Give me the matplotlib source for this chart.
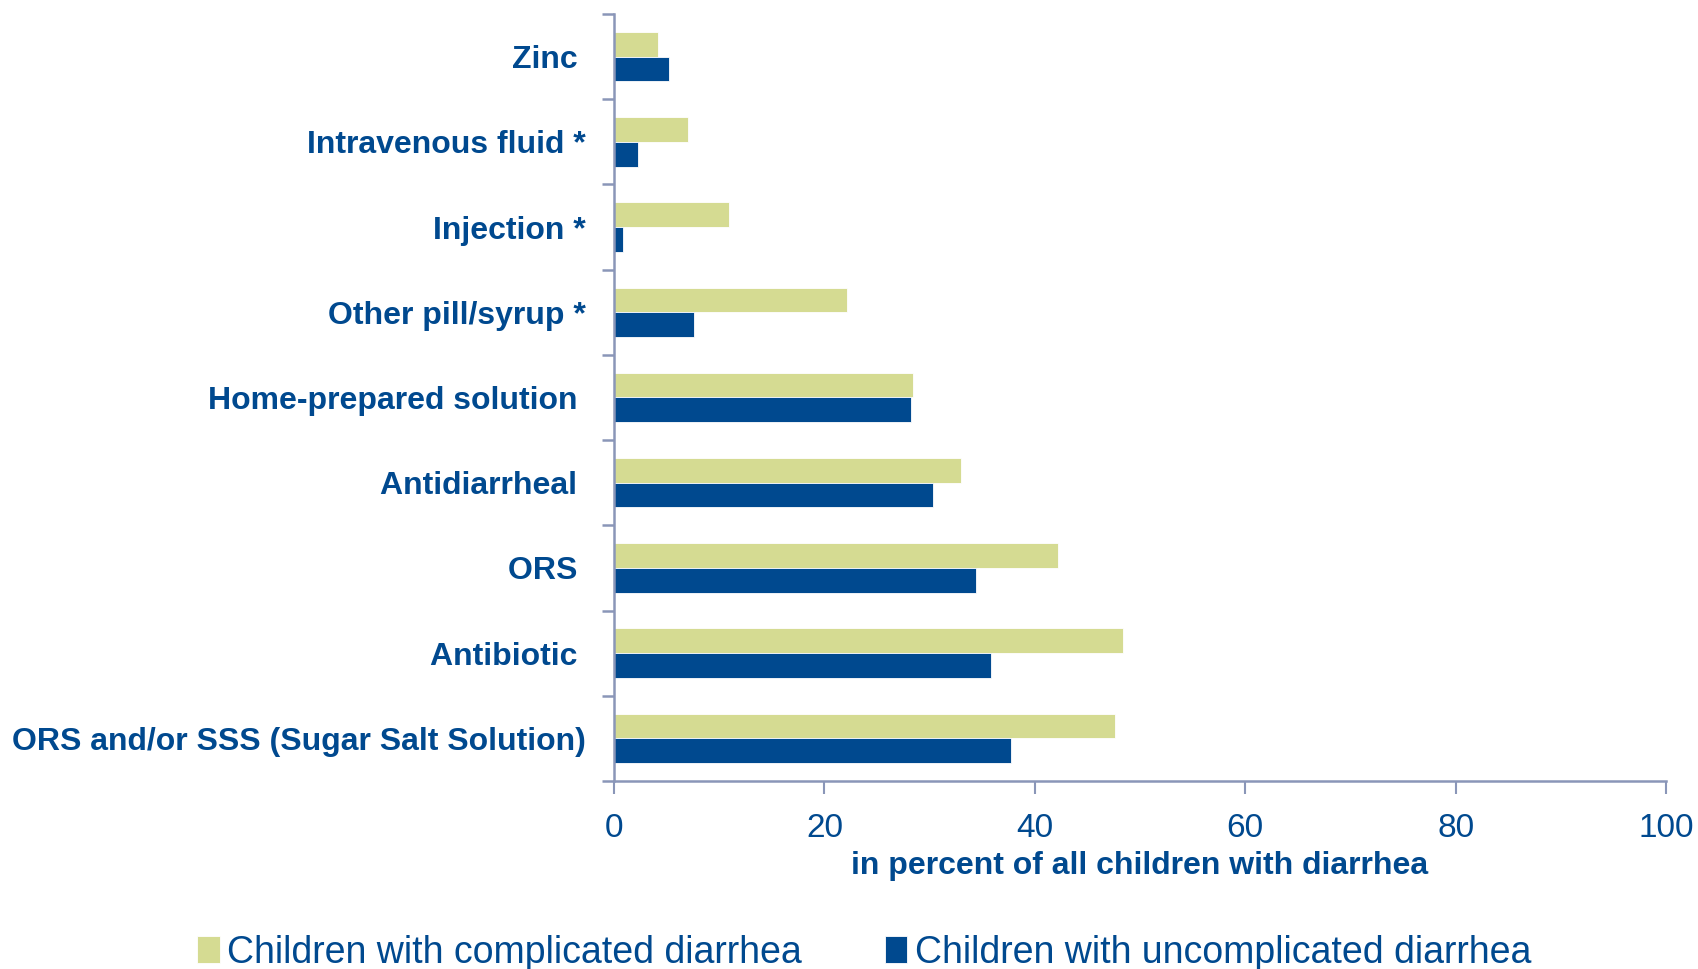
import matplotlib.pyplot as plt
import numpy as np

plt.rcParams['font.family'] = ['Liberation Sans', 'DejaVu Sans']

categories = ['Zinc ', 'Intravenous fluid *', 'Injection *', 'Other pill/syrup *',
              'Home-prepared solution ', 'Antidiarrheal ', 'ORS ', 'Antibiotic ',
              'ORS and/or SSS (Sugar Salt Solution)']
complicated = [4.2, 7.0, 10.9, 22.1, 28.4, 33.0, 42.2, 48.4, 47.6]
uncomplicated = [5.2, 2.3, 0.9, 7.6, 28.2, 30.3, 34.4, 35.8, 37.7]
xticks = [0, 20, 40, 60, 80, 100]

navy = '#00498F'
olive = '#D5DB92'
axis_col = '#8A96B8'

fig = plt.figure(figsize=(16.98, 9.69), dpi=100)
ax = fig.add_axes([0.3616, 0.194, 0.6196, 0.7916])

y = np.arange(len(categories))
h = 0.29
ax.barh(y - h / 2, complicated, height=h, color=olive, edgecolor='white', linewidth=0.6,
        label='Children with complicated diarrhea')
ax.barh(y + h / 2, uncomplicated, height=h, color=navy, edgecolor='white', linewidth=0.6,
        label='Children with uncomplicated diarrhea')

ax.set_ylim(len(categories) - 0.5, -0.5)
ax.set_xlim(0, 100)

# category boundaries as ticks, labels on minor ticks
ax.set_yticks(np.arange(-0.5, len(categories), 1.0))
ax.set_yticklabels([])
ax.set_yticks(y, minor=True)
ax.set_yticklabels(categories, minor=True, fontsize=23, fontweight='bold', color=navy)
ax.tick_params(axis='y', which='minor', length=0, pad=20)
ax.tick_params(axis='y', which='major', length=9, width=1.8, color=axis_col, direction='out')

ax.set_xticks(xticks)
ax.set_xticklabels([str(t) for t in xticks], fontsize=24, color=navy)
ax.tick_params(axis='x', length=9, width=1.5, color=axis_col, direction='out', pad=14)

ax.set_xlabel('in percent of all children with diarrhea', fontsize=23, fontweight='bold',
              color=navy, labelpad=5)

for s in ['top', 'right']:
    ax.spines[s].set_visible(False)
for s in ['left', 'bottom']:
    ax.spines[s].set_color(axis_col)
    ax.spines[s].set_linewidth(1.8)

fig.legend(loc='center', bbox_to_anchor=(0.509, 0.017), ncol=2, frameon=False,
           fontsize=27, labelcolor=navy, handlelength=0.6, handleheight=0.7,
           handletextpad=0.2, columnspacing=2.2)

fig.savefig('out.png', dpi=100)
